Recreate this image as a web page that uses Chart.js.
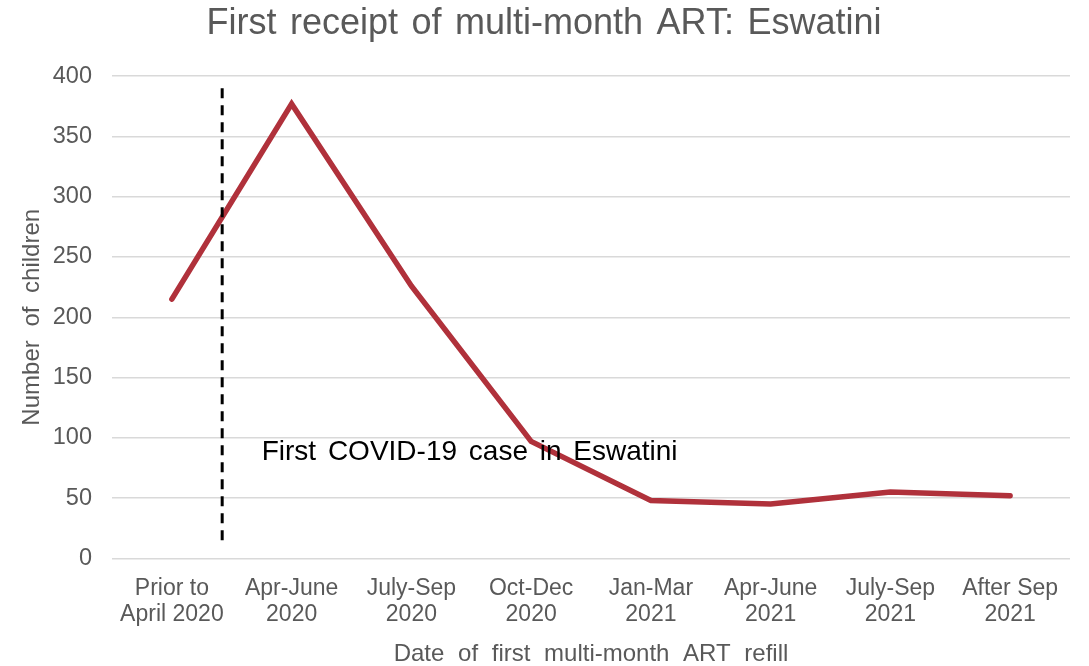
<!DOCTYPE html>
<html><head><meta charset="utf-8">
<script src="https://cdn.jsdelivr.net/npm/chart.js@4.4.1/dist/chart.umd.min.js"></script>
<style>html,body{margin:0;padding:0;background:#fff;}#wrap{width:1089px;height:666px;}</style>
</head><body><div id="wrap"><canvas id="c" width="1089" height="666"></canvas></div>
<script>
const categories = [["Prior to","April 2020"],["Apr-June","2020"],["July-Sep","2020"],["Oct-Dec","2020"],["Jan-Mar","2021"],["Apr-June","2021"],["July-Sep","2021"],["After Sep","2021"]];
const children = [215, 377, 226, 97, 48, 45, 55, 52];
const yTicks = [0, 50, 100, 150, 200, 250, 300, 350, 400];
const covidMarkerX = 0.42;          // position between categories (index units)
const covidMarkerY = [15, 390];     // extent of dashed marker in data units
const annotationText = "First COVID-19 case in Eswatini";
const annotationPos = [0.75, 88];

const FONT = "'Liberation Sans', Arial, sans-serif";
const GREY = "#595959";

function setWS(ctx, v) { if ('wordSpacing' in ctx) ctx.wordSpacing = v; }

const markerPlugin = {
  id: 'marker',
  afterInit(chart) {
    const tb = chart.titleBlock;
    if (tb) {
      tb._layers = function () {
        return [{ z: 1, draw: (ca) => { const c = chart.ctx; c.save(); setWS(c, '3.5px'); tb.draw(ca); setWS(c, '0px'); c.restore(); } }];
      };
    }
  },
  beforeDraw(chart) { setWS(chart.ctx, '7px'); },
  beforeDatasetsDraw(chart) { setWS(chart.ctx, '0px'); },
  afterDatasetsDraw(chart) {
    const {ctx, scales:{x, y}} = chart;
    const px = x.getPixelForValue(covidMarkerX);
    ctx.save();
    ctx.strokeStyle = '#000';
    ctx.lineWidth = 3;
    ctx.setLineDash([10, 7]);
    ctx.beginPath();
    ctx.moveTo(px, y.getPixelForValue(covidMarkerY[1]));
    ctx.lineTo(px, y.getPixelForValue(covidMarkerY[0]));
    ctx.stroke();
    ctx.setLineDash([]);
    ctx.fillStyle = '#000';
    ctx.font = "28px " + FONT;
    ctx.textAlign = 'left';
    ctx.textBaseline = 'middle';
    setWS(ctx, '4px');
    ctx.fillText(annotationText, x.getPixelForValue(annotationPos[0]), y.getPixelForValue(annotationPos[1]));
    setWS(ctx, '0px');
    ctx.restore();
    setWS(ctx, '0px');
  }
};

new Chart(document.getElementById('c'), {
  type: 'line',
  data: {
    labels: categories,
    datasets: [{
      data: children,
      borderColor: '#B0313B',
      borderWidth: 5.5,
      pointRadius: 0,
      tension: 0,
      fill: false,
      borderCapStyle: 'round',
      borderJoinStyle: 'miter'
    }]
  },
  options: {
    responsive: false,
    animation: false,
    devicePixelRatio: 1,
    layout: { padding: { left: 18, right: 19, top: 0, bottom: -3 } },
    plugins: {
      legend: { display: false },
      tooltip: { enabled: false },
      title: {
        display: true,
        text: "First receipt of multi-month ART: Eswatini",
        color: GREY,
        font: { family: FONT, size: 36, weight: 'normal' },
        padding: { top: 2, bottom: 31 }
      }
    },
    scales: {
      x: {
        type: 'category',
        offset: true,
        grid: { display: false, drawTicks: false },
        border: { display: false },
        ticks: { z: 1, color: GREY, font: { family: FONT, size: 23, lineHeight: 1.15 }, padding: 17, maxRotation: 0, autoSkip: false },
        title: { display: true, text: "Date of first multi-month ART refill", color: GREY, font: { family: FONT, size: 24 }, padding: { top: -5, bottom: 0 } }
      },
      y: {
        min: 0, max: 400,
        afterBuildTicks(axis) { axis.ticks = yTicks.map(v => ({ value: v })); },
        grid: { color: '#D9D9D9', lineWidth: 1.5, drawTicks: false },
        border: { display: false },
        ticks: { z: 1, color: GREY, font: { family: FONT, size: 23.5 }, padding: 20 },
        title: { display: true, text: "Number of children", color: GREY, font: { family: FONT, size: 24 }, padding: { top: 0, bottom: -14 } }
      }
    }
  },
  plugins: [markerPlugin]
});
</script></body></html>
